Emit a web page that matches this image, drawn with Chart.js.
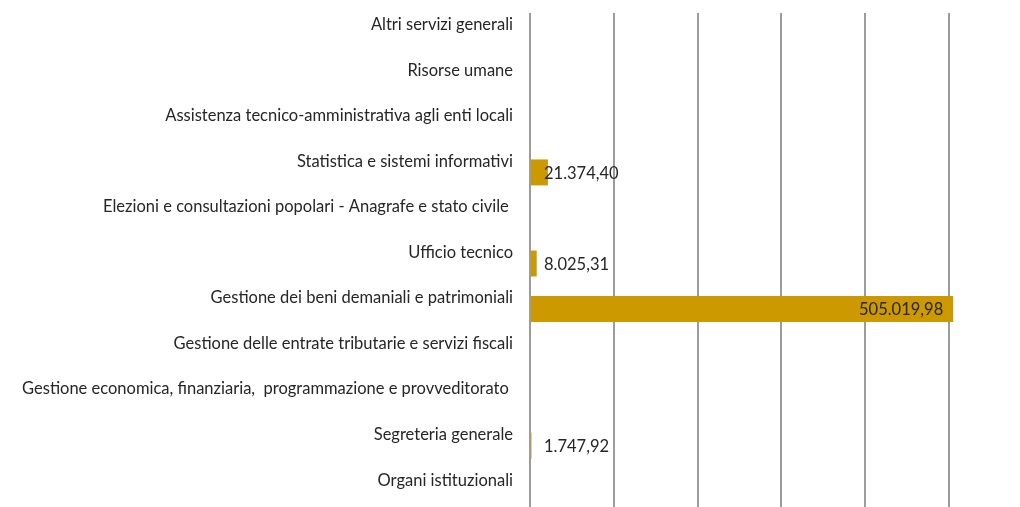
<!DOCTYPE html>
<html>
<head>
<meta charset="utf-8">
<script src="https://cdn.jsdelivr.net/npm/chart.js@4/dist/chart.umd.min.js"></script>
<style>
	html, body { margin: 0; padding: 0; background: #ffffff; overflow: hidden; }
	#wrap { width: 1020px; height: 514px; position: relative; }
</style>
</head>
<body>
<div id="wrap"><canvas id="myChart"></canvas></div>
<script>
const categories = [
	'Altri servizi generali',
	'Risorse umane',
	'Assistenza tecnico-amministrativa agli enti locali',
	'Statistica e sistemi informativi',
	'Elezioni e consultazioni popolari - Anagrafe e stato civile ',
	'Ufficio tecnico',
	'Gestione dei beni demaniali e patrimoniali',
	'Gestione delle entrate tributarie e servizi fiscali',
	'Gestione economica, finanziaria,  programmazione e provveditorato ',
	'Segreteria generale',
	'Organi istituzionali',
];

const values = [null, null, null, 21374.40, null, 8025.31, 505019.98, null, null, 1747.92, null];

const axisMin = 0;
const axisMax = 500000;
const axisStep = 100000;

const fontFamily = 'Lato, "Open Sans", sans-serif';

const formatEuro = (v) => {
	const parts = v.toFixed(2).split('.');
	const int = parts[0].replace(/\B(?=(\d{3})+(?!\d))/g, '.');
	return `${int},${parts[1]}`;
};

const valueLabels = {
	id: 'valueLabels',
	afterDatasetsDraw(chart) {
		const ctx = chart.ctx;
		const meta = chart.getDatasetMeta(0);
		const xZero = chart.scales.x.getPixelForValue(0);
		ctx.save();
		ctx.font = `16.5px ${fontFamily}`;
		ctx.fillStyle = '#262626';
		ctx.textBaseline = 'middle';
		meta.data.forEach((bar, i) => {
			const v = values[i];
			if (v === null) return;
			const text = formatEuro(v);
			const w = ctx.measureText(text).width;
			if (bar.x - xZero > w + 30) {
				ctx.textAlign = 'right';
				ctx.fillText(text, bar.x - 10, bar.y + 1);
			} else {
				ctx.textAlign = 'left';
				ctx.fillText(text, xZero + 14, bar.y + 1);
			}
		});
		ctx.restore();
	},
};

const ctx = document.getElementById('myChart').getContext('2d');
const myChart = new Chart(ctx, {
	type: 'bar',
	data: {
		labels: categories,
		datasets: [
			{
				label: 'Importo',
				data: values,
				backgroundColor: '#cc9900',
				borderWidth: 0,
				categoryPercentage: 1,
				barPercentage: 0.57,
				clip: false,
			},
		],
	},
	options: {
		indexAxis: 'y',
		responsive: true,
		maintainAspectRatio: false,
		animation: false,
		layout: {
			padding: { left: 10, right: 71, top: 13, bottom: 0 },
		},
		plugins: {
			legend: { display: false },
			tooltip: { enabled: false },
		},
		scales: {
			x: {
				min: axisMin,
				max: axisMax,
				ticks: { display: false, stepSize: axisStep },
				grid: { color: '#9c9c9c', lineWidth: 2, drawTicks: false },
				border: { display: false },
			},
			y: {
				afterFit(scale) {
					scale.width = 520;
					scale.paddingTop = 0;
					scale.paddingBottom = 0;
				},
				ticks: {
					padding: 17,
					labelOffset: -11,
					color: '#262626',
					font: { family: fontFamily, size: 16.5 },
				},
				grid: { display: false, drawTicks: false },
				border: { display: false },
			},
		},
	},
	plugins: [valueLabels],
});
</script>
</body>
</html>
